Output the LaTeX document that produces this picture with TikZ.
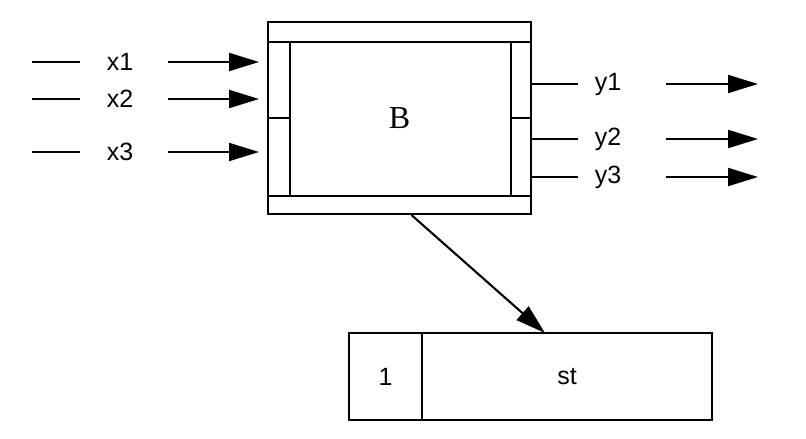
\documentclass[tikz,border=0pt]{standalone}
\usepackage{fontspec}
\setsansfont{Liberation Sans}
\setmainfont{Liberation Serif}
\usetikzlibrary{arrows.meta, positioning, calc}

\begin{document}
\begin{tikzpicture}[x=1pt, y=-1pt, line width=2.1pt,
  lbl/.style={font=\fontsize{25}{29}\sffamily},
  arr/.style={-{Triangle[length=30pt,width=18pt]}}]
\useasboundingbox (0,0) rectangle (806,439);
% main block
\node[draw, minimum width=263pt, minimum height=192pt, inner sep=0pt] (blk) at (399.5,118) {};
\draw (268,42) -- (531,42);
\draw (268,196) -- (531,196);
\draw (290,42) -- (290,196);
\draw (511,42) -- (511,196);
\draw (268,118) -- (290,118);
\draw (511,118) -- (531,118);
\node[font=\fontsize{32}{36}\rmfamily] (b) at (blk) {B};

% inputs
\foreach \n/\y in {1/62, 2/99, 3/152} {
  \draw (32,\y) -- (80,\y);
  \node[lbl] (x\n) at (120,\y) {x\n};
  \draw[arr] (168,\y) -- (259,\y);
}

% outputs
\foreach \n/\y in {1/84, 2/139, 3/177} {
  \draw (531,\y) -- (578,\y);
  \node[lbl] (y\n) at (608,\y) {y\n};
  \draw[arr] (666,\y) -- (758,\y);
}

% lower box
\node[draw, lbl, minimum width=73pt, minimum height=87pt, inner sep=0pt, outer sep=0pt] (one) at (385.5,376.5) {1};
\node[draw, lbl, minimum width=290pt, minimum height=87pt, inner sep=0pt, outer sep=0pt, anchor=west] (st) at (one.east) {st};

\draw[arr] ([xshift=12pt]blk.south) -- ([xshift=-22pt]st.north);
\end{tikzpicture}
\end{document}
